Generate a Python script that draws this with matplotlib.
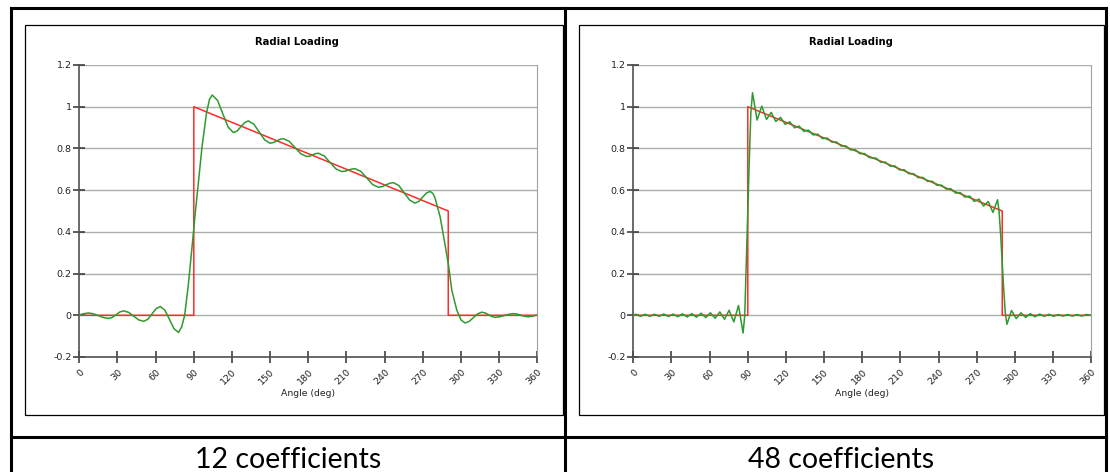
import matplotlib
matplotlib.use("Agg")
import matplotlib.pyplot as plt
from matplotlib.patches import Rectangle

# load line (red) - same in both charts
load_angle = [0, 90, 90, 290, 290, 360]
load_value = [0, 0, 1, 0.5, 0, 0]

# Fourier fit with 12 coefficients (green)
angle_12 = [0, 3.7, 7.3, 11.2, 15.2, 19.1, 23, 26, 28.9, 31.9, 34.8, 38.8, 42.7, 46.7,
            50.6, 53.9, 57.2, 60.4, 63.7, 67.3, 70.9, 74.4, 78, 80.5, 82.8, 85.6, 88.5,
            91.3, 94, 96.5, 100, 102.3, 104.5, 108.7, 112.8, 117, 121.1, 124.1, 127,
            130, 132.9, 137.2, 141.4, 145.7, 149.9, 152.5, 155.2, 157.8, 160.4, 165,
            169.6, 174.2, 178.8, 181.1, 183.4, 185.6, 187.9, 192.5, 197.1, 201.7, 206.3,
            208.9, 211.5, 214.1, 216.7, 221.3, 225.9, 230.5, 235.1, 238.1, 241, 244,
            246.9, 251.2, 255.4, 259.7, 263.9, 266.9, 269.8, 272.8, 275.7, 277.8, 279.5,
            283.7, 287.8, 290.4, 292.8, 296.7, 300, 303.2, 306.5, 309.8, 313.1, 316.4,
            319, 321.7, 324.3, 326.9, 330.5, 334.1, 337.6, 341.2, 344.2, 347.1, 350.1,
            353, 356.6, 360]
fit_12 = [0.002, 0.008, 0.011, 0.007, -0.002, -0.011, -0.015, -0.010, 0.003, 0.016,
          0.021, 0.014, -0.004, -0.022, -0.029, -0.019, 0.007, 0.032, 0.042, 0.024,
          -0.020, -0.064, -0.082, -0.055, 0.0, 0.14, 0.32, 0.5, 0.66, 0.81, 0.97, 1.035,
          1.056, 1.030, 0.966, 0.902, 0.876, 0.884, 0.904, 0.924, 0.932, 0.916, 0.879,
          0.841, 0.825, 0.828, 0.836, 0.844, 0.847, 0.834, 0.804, 0.774, 0.761, 0.763,
          0.769, 0.775, 0.777, 0.764, 0.733, 0.702, 0.689, 0.691, 0.696, 0.701, 0.703,
          0.690, 0.659, 0.627, 0.614, 0.617, 0.625, 0.633, 0.636, 0.622, 0.587, 0.552,
          0.538, 0.546, 0.566, 0.586, 0.594, 0.585, 0.565, 0.47, 0.327, 0.232, 0.12,
          0.025, -0.022, -0.037, -0.029, -0.011, 0.007, 0.015, 0.011, 0.003, -0.006,
          -0.010, -0.007, -0.001, 0.005, 0.008, 0.006, 0.0, -0.005, -0.007, -0.004, 0.002]

# Fourier fit with 48 coefficients (green)
angle_48 = [0, 1.9, 5.6, 9.3, 12.9, 16.6, 20.3, 23.9, 27.6, 31.3, 35.0, 38.6, 42.3, 46.0,
            49.6, 53.3, 57.0, 60.6, 64.3, 68.0, 71.7, 75.3, 79.0, 82.7, 86.3, 87.6, 88.8,
            90.0, 91.2, 92.4, 93.7, 97.3, 101.0, 104.7, 108.4, 112.0, 115.7, 119.4, 123.0,
            126.7, 130.4, 134.0, 137.7, 141.4, 145.0, 148.7, 152.4, 156.1, 159.7, 163.4,
            167.1, 170.7, 174.4, 178.1, 181.8, 185.4, 190.9, 194.6, 198.2, 201.9, 205.6,
            209.3, 212.9, 216.6, 220.3, 223.9, 227.6, 231.3, 235.0, 238.6, 242.3, 246.0,
            249.6, 253.3, 257.0, 260.6, 264.3, 268.0, 271.7, 275.3, 279.0, 282.7, 286.3,
            287.5, 288.8, 290.0, 291.2, 292.4, 293.7, 297.3, 301.0, 304.7, 308.4, 312.0,
            315.7, 319.4, 323.0, 326.7, 330.4, 334.0, 337.7, 341.4, 345.0, 348.7, 352.4,
            356.1, 360]
fit_48 = [0.0, 0.005, -0.005, 0.005, -0.005, 0.005, -0.005, 0.006, -0.006, 0.006, -0.007,
          0.007, -0.008, 0.008, -0.009, 0.010, -0.011, 0.012, -0.014, 0.016, -0.019, 0.024,
          -0.032, 0.047, -0.085, 0.0, 0.25, 0.5, 0.75, 0.97, 1.067, 0.936, 1.003, 0.939,
          0.973, 0.929, 0.949, 0.9155, 0.9275, 0.899, 0.907, 0.882, 0.888, 0.8645, 0.8685,
          0.847, 0.850, 0.830, 0.831, 0.8115, 0.812, 0.793, 0.794, 0.775, 0.7755, 0.7565,
          0.753, 0.7335, 0.7345, 0.715, 0.716, 0.697, 0.698, 0.6785, 0.679, 0.660, 0.661,
          0.642, 0.6425, 0.6235, 0.624, 0.605, 0.607, 0.586, 0.5885, 0.5665, 0.572, 0.546,
          0.557, 0.524, 0.5455, 0.493, 0.554, 0.5, 0.38, 0.25, 0.12, 0.01, -0.043, 0.023,
          -0.016, 0.012, -0.010, 0.008, -0.007, 0.006, -0.005, 0.005, -0.005, 0.004, -0.004,
          0.004, -0.004, 0.004, -0.004, 0.004, 0.0]

x_ticks = list(range(0, 361, 30))
x_tick_labels = [str(v) for v in x_ticks]
y_ticks = [-0.2, 0, 0.2, 0.4, 0.6, 0.8, 1, 1.2]
y_tick_labels = ["-0.2", "0", "0.2", "0.4", "0.6", "0.8", "1", "1.2"]
captions = ["12 coefficients", "48 coefficients"]

W, H = 1110, 472
fig = plt.figure(figsize=(W / 100, H / 100), dpi=100)

# background: table borders, chart frames, captions (pixel coordinates)
bg = fig.add_axes([0, 0, 1, 1], zorder=0)
bg.set_xlim(0, W)
bg.set_ylim(H, 0)
bg.axis("off")
for x0, x1 in [(25, 563), (579, 1104)]:
    bg.add_patch(Rectangle((x0, 25), x1 - x0, 390, fill=False, lw=0.9, ec="black"))
bg.plot([11, 1106], [8, 8], color="black", lw=2.2)
bg.plot([11, 1106], [437, 437], color="black", lw=2.2)
for xv in [11, 565, 1106]:
    bg.plot([xv, xv], [8, 472], color="black", lw=2.2)
bg.text(288, 468, captions[0], ha="center", va="baseline", fontsize=20.5, family="Lato")
bg.text(841, 468, captions[1], ha="center", va="baseline", fontsize=20.5, family="Lato")

chart_font = "DejaVu Sans"


def draw_chart(left_px, title_px, fit_angle, fit_value):
    ax = fig.add_axes([left_px / W, (H - 357) / H, 458 / W, 292 / H], zorder=2)
    ax.set_facecolor("none")
    ax.plot(load_angle, load_value, color="#ff2b2b", lw=1.1, zorder=3)
    ax.plot(fit_angle, fit_value, color="#2e9a2e", lw=1.1, zorder=4,
            solid_joinstyle="round")
    ax.set_xlim(0, 360)
    ax.set_ylim(-0.2, 1.2)
    ax.set_xticks(x_ticks)
    ax.set_xticklabels(x_tick_labels, rotation=45, ha="right", va="top",
                       rotation_mode="anchor", family=chart_font)
    ax.set_yticks(y_ticks)
    ax.set_yticklabels(y_tick_labels, family=chart_font)
    ax.grid(axis="y", color="#a8b0a8", lw=1)
    ax.spines["top"].set_visible(False)
    ax.spines["right"].set_color("#a0a0a0")
    ax.spines["right"].set_linewidth(0.8)
    for s in ["left", "bottom"]:
        ax.spines[s].set_color("#505050")
        ax.spines[s].set_linewidth(1.2)
    ax.tick_params(direction="inout", length=9, width=1.1, color="#303030",
                   labelsize=6.8, labelcolor="#222222")
    ax.tick_params(axis="y", pad=1)
    ax.tick_params(axis="x", pad=3)
    bg.text(title_px, 42, "Radial Loading", ha="left", va="center", fontsize=7.2,
            fontweight="bold", family=chart_font)
    bg.text(left_px + 229, 394, "Angle (deg)", ha="center", va="center", fontsize=6.7,
            family=chart_font, color="#222222")
    return ax


draw_chart(79.3, 255, angle_12, fit_12)
draw_chart(633.3, 809, angle_48, fit_48)

fig.savefig("out.png", dpi=100)
